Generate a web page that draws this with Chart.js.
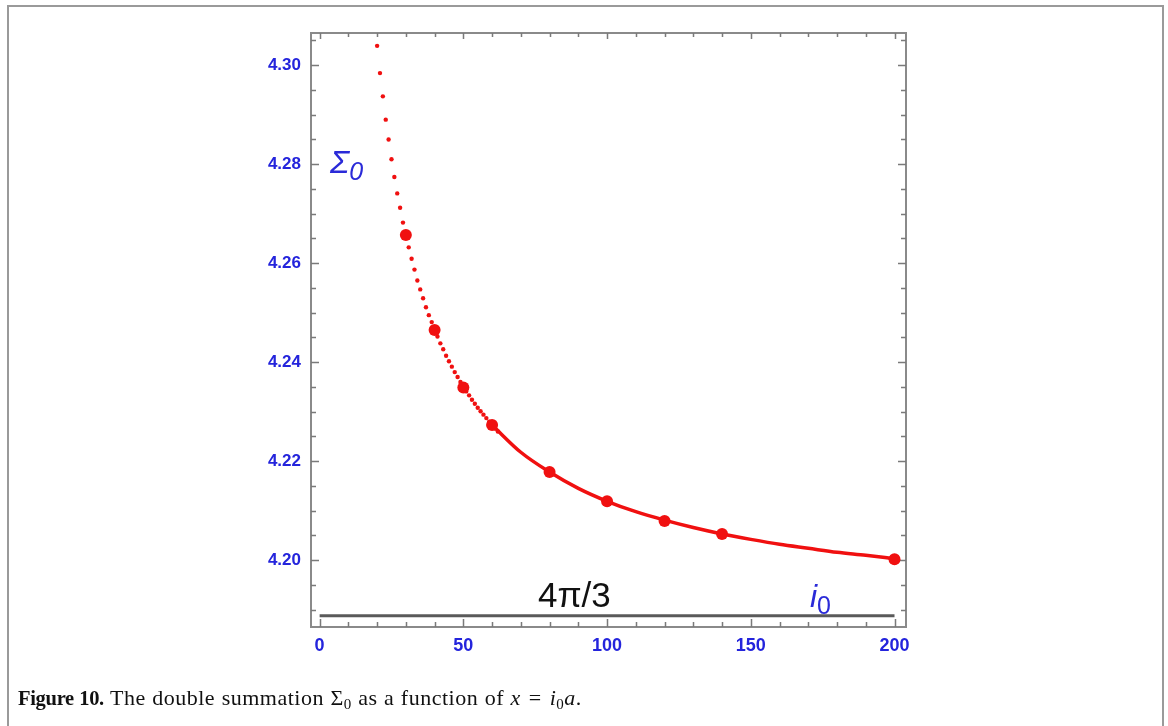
<!DOCTYPE html>
<html>
<head>
<meta charset="utf-8">
<script src="https://cdn.jsdelivr.net/npm/chart.js@4.4.1/dist/chart.umd.min.js"></script>
<style>
  html, body { margin: 0; padding: 0; background: #fff; }
  #wrap { position: relative; width: 1168px; height: 726px; overflow: hidden; }
  #frame { position: absolute; left: 7px; top: 5px; width: 1157px; height: 740px; border: 2px solid #9a9a9a; box-sizing: border-box; }
  canvas { position: absolute; left: 0; top: 0; }
  .lbl { position: absolute; font-family: "Liberation Sans", Arial, sans-serif; white-space: nowrap; line-height: 1; }
  #sigma { left: 330px; top: 146px; color: #2a2ad8; font-style: italic; font-size: 32px; }
  #sigma sub { font-size: 25px; vertical-align: -7px; font-style: italic; }
  #fourpi { left: 538px; top: 577px; color: #111; font-size: 35px; }
  #izero { left: 810px; top: 580px; color: #2a2ad8; font-style: italic; font-size: 32px; }
  #izero sub { font-size: 25px; vertical-align: -7px; font-style: normal; }
  #caption { position: absolute; left: 18px; top: 685px; font-family: "Liberation Serif", "Times New Roman", serif; font-size: 22px; color: #111; white-space: nowrap; letter-spacing: 0.5px; word-spacing: 0.5px; }
  #caption b { font-weight: bold; font-size: 20.5px; letter-spacing: -0.3px; }
  #caption sub { font-size: 15px; vertical-align: -4px; }
  #caption .eq { margin: 0 8px; }
</style>
</head>
<body>
<div id="wrap">
  <canvas id="c" width="1168" height="726"></canvas>
  <div id="frame"></div>
  <div class="lbl" id="sigma">Σ<sub>0</sub></div>
  <div class="lbl" id="fourpi">4π/3</div>
  <div class="lbl" id="izero">i<sub>0</sub></div>
  <div id="caption"><b>Figure 10.</b> The double summation Σ<sub>0</sub> as a function of <i>x</i><span class="eq">=</span><i>i</i><sub>0</sub><i>a</i>.</div>
</div>
<script>
// ---- data ----
// large markers
const bigX = [30, 40, 50, 60, 80, 100, 120, 140, 200];
const bigY = [4.2657, 4.2465, 4.2349, 4.2273, 4.2178, 4.2119, 4.2079, 4.2053, 4.2002];

// small dots (i0 = 20 .. 62)
const dotX = [20,21,22,23,24,25,26,27,28,29,30,31,32,33,34,35,36,37,38,39,40,41,42,43,44,45,46,47,48,49,50,51,52,53,54,55,56,57,58,59,60,61,62];
const dotY = [4.3039,4.2984,4.2937,4.2890,4.2850,4.2810,4.2774,4.2741,4.2712,4.2682,
              4.2655,4.2632,4.2609,4.2587,4.2565,4.2547,4.2529,4.2511,4.2495,4.2481,
              4.2465,4.2452,4.2438,4.2426,4.2413,4.2402,4.2391,4.2380,4.2370,4.2360,
              4.2350,4.2341,4.2333,4.2324,4.2316,4.2308,4.2301,4.2294,4.2287,4.2280,
              4.2273,4.2266,4.2260];

// solid curve part
const lineX = [60, 70, 80, 90, 100, 110, 120, 130, 140, 150, 160, 170, 180, 190, 200];
const lineY = [4.2273, 4.2218, 4.2178, 4.2145, 4.2119, 4.2098, 4.2081, 4.2066, 4.2053, 4.2042, 4.2032, 4.2024, 4.2016, 4.2010, 4.2003];

// asymptote 4π/3
const asymX = [0, 200];
const asymY = [4.18879, 4.18879];

// axes
const xRange = [-3, 204];
const yRange = [4.1865, 4.3065];
const xTickLabels = [0, 50, 100, 150, 200];
const xMinorTicks = [0,10,20,30,40,50,60,70,80,90,100,110,120,130,140,150,160,170,180,190,200];
const yTickLabels = [4.20, 4.22, 4.24, 4.26, 4.28, 4.30];
const yMinorTicks = [4.190,4.195,4.200,4.205,4.210,4.215,4.220,4.225,4.230,4.235,4.240,4.245,4.250,4.255,4.260,4.265,4.270,4.275,4.280,4.285,4.290,4.295,4.300,4.305];

const pts = (xs, ys) => xs.map((x, i) => ({x: x, y: ys[i]}));

const RED = '#f01010';
const BLUE = '#2424dc';
const FRAME = '#8a8a8a';

const framePlugin = {
  id: 'framePlugin',
  beforeDatasetsDraw(chart) {
    const ctx = chart.ctx, a = chart.chartArea;
    const xs = chart.scales.x, ys = chart.scales.y;
    ctx.save();
    ctx.strokeStyle = FRAME;
    ctx.lineWidth = 2;
    ctx.strokeRect(a.left, a.top, a.right - a.left, a.bottom - a.top);
    ctx.lineWidth = 1.5;
    ctx.strokeStyle = '#7a7a7a';
    ctx.beginPath();
    xMinorTicks.forEach(v => {
      const px = Math.round(xs.getPixelForValue(v)) + 0.5;
      const major = xTickLabels.includes(v);
      const len = major ? 8 : 5;
      ctx.moveTo(px, a.bottom); ctx.lineTo(px, a.bottom - len);
      ctx.moveTo(px, a.top); ctx.lineTo(px, a.top + (major ? 6 : 4));
    });
    yMinorTicks.forEach(v => {
      const py = Math.round(ys.getPixelForValue(v)) + 0.5;
      const major = yTickLabels.some(t => Math.abs(t - v) < 1e-9);
      const len = major ? 8 : 5;
      ctx.moveTo(a.left, py); ctx.lineTo(a.left + len, py);
      ctx.moveTo(a.right, py); ctx.lineTo(a.right - len, py);
    });
    ctx.stroke();
    ctx.restore();
  }
};

new Chart(document.getElementById('c'), {
  type: 'scatter',
  data: {
    datasets: [
      { data: pts(asymX, asymY), showLine: true, borderColor: '#5a5a5a', borderWidth: 3, pointRadius: 0, order: 4 },
      { data: pts(lineX, lineY), showLine: true, borderColor: RED, borderWidth: 3.5, pointRadius: 0, cubicInterpolationMode: 'monotone', order: 3 },
      { data: pts(dotX, dotY), showLine: false, pointRadius: 2.2, pointBorderWidth: 0, backgroundColor: RED, borderColor: RED, order: 2 },
      { data: pts(bigX, bigY), showLine: false, pointRadius: 6, pointBorderWidth: 0, backgroundColor: RED, borderColor: RED, order: 1 }
    ]
  },
  options: {
    responsive: false,
    animation: false,
    devicePixelRatio: 1,
    layout: { padding: { left: 0, top: 33, right: 262, bottom: 0 } },
    plugins: { legend: { display: false }, tooltip: { enabled: false } },
    scales: {
      x: {
        type: 'linear', min: xRange[0], max: xRange[1],
        grid: { display: false, drawTicks: false },
        border: { display: false },
        afterBuildTicks: s => { s.ticks = xTickLabels.map(v => ({ value: v })); },
        afterFit: s => { s.height = 99; },
        ticks: { color: BLUE, padding: 8, font: { family: 'Liberation Sans', size: 18, weight: 'bold' }, maxRotation: 0, autoSkip: false, callback: v => String(v) }
      },
      y: {
        type: 'linear', min: yRange[0], max: yRange[1],
        grid: { display: false, drawTicks: false },
        border: { display: false },
        afterBuildTicks: s => { s.ticks = yTickLabels.map(v => ({ value: v })); },
        afterFit: s => { s.width = 311; },
        ticks: { color: BLUE, padding: 10, font: { family: 'Liberation Sans', size: 17, weight: 'bold' }, autoSkip: false, callback: v => Number(v).toFixed(2) }
      }
    }
  },
  plugins: [framePlugin]
});
</script>
</body>
</html>
